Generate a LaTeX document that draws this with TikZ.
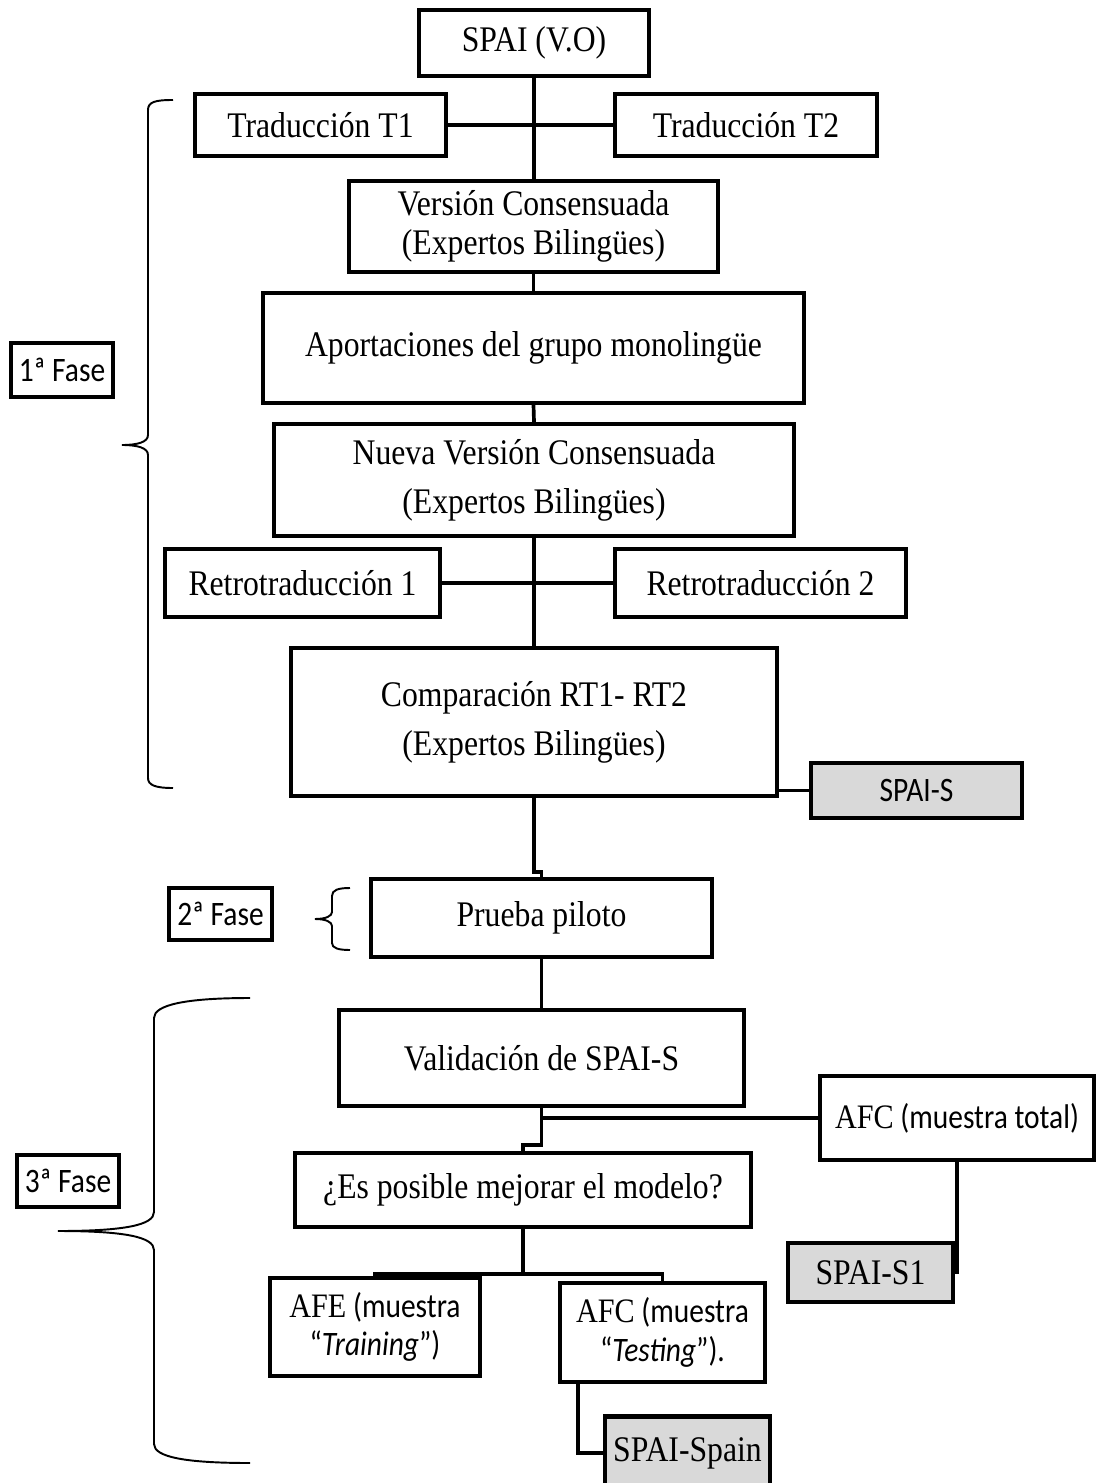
\documentclass[tikz,border=0pt]{standalone}
\usepackage{fontspec}
\setmainfont[FakeStretch=0.88]{Liberation Serif}
\setsansfont[FakeStretch=0.86]{Carlito}
\usetikzlibrary{positioning, calc}
\usepackage{xcolor}
\definecolor{spaigray}{HTML}{D9D9D9}
\newlength{\px}
\setlength{\px}{0.02cm}

\begin{document}
\begin{tikzpicture}[
    x=0.02cm, y=-0.02cm,
    sz/.style 2 args={minimum width=#1\px, minimum height=#2\px},
    stage/.style={rectangle, draw=black, fill=white, line width=2.3pt,
                  align=center, inner sep=1pt,
                  font=\fontsize{20.5}{22}\selectfont},
    result/.style={stage, fill=spaigray},
    phase/.style={rectangle, draw=black, line width=2.3pt, inner sep=1pt,
                  font=\sffamily\fontsize{19.5}{22}\selectfont},
    sanslabel/.style={font=\sffamily\fontsize{19.5}{22}\selectfont},
    link/.style={line width=2.1pt, black},
    curly/.style={line width=1.1pt, black}
  ]
    \useasboundingbox (0,0) rectangle (1096,1483);

    % 1a fase: traduccion y retrotraduccion
    \node[stage, sz={230}{66}] (spai) at (534,43) {SPAI (V.O)};
    \node[stage, sz={251}{62}] (t1) at (320.5,125) {Traducción T1};
    \node[stage, sz={262}{62}] (t2) at (746,125) {Traducción T2};
    \node[stage, sz={369}{91}] (vc) at (533.5,226.5) {Versión Consensuada\\(Expertos Bilingües)};
    \node[stage, sz={541}{110}] (apo) at (533.5,348) {Aportaciones del grupo monolingüe};
    \node[stage, sz={520}{112}] (nvc) at (534,480) {Nueva Versión Consensuada\\[6pt](Expertos Bilingües)};
    \node[stage, sz={275}{68}] (rt1) at (302.5,583) {Retrotraducción 1};
    \node[stage, sz={291}{68}] (rt2) at (760.5,583) {Retrotraducción 2};
    \node[stage, sz={486}{148}] (comp) at (534,722) {Comparación RT1- RT2\\[6pt](Expertos Bilingües)};
    \node[result, sanslabel, sz={211}{55}] (spais) at (916.5,790.5) {SPAI-S};

    % 2a fase
    \node[stage, sz={341}{78}] (piloto) at (541.5,918) {Prueba piloto};

    % 3a fase: validacion
    \node[stage, sz={405}{96}] (val) at (541.5,1058) {Validación de SPAI-S};
    \node[stage, sanslabel, sz={274}{84}] (afct) at (957,1118) {{\rmfamily AFC} (muestra total)};
    \node[stage, sz={456}{74}] (es) at (523,1190) {¿Es posible mejorar el modelo?};
    \node[result, sz={165}{59}] (s1) at (870.5,1272.5) {SPAI-S1};
    \node[stage, sanslabel, sz={210}{98}] (afe) at (375,1327) {{\rmfamily AFE} (muestra\\“\textit{Training}”)};
    \node[stage, sanslabel, sz={205}{99}] (afcx) at (662.5,1332.5) {{\rmfamily AFC} (muestra\\“\textit{Testing}”).};
    \node[result, sz={165}{73}] (spain) at (687.5,1453) {SPAI-Spain};

    % etiquetas de fase
    \node[phase, sz={102}{54}] (f1) at (62,370) {1ª Fase};
    \node[phase, sz={103}{52}] (f2) at (220.5,914) {2ª Fase};
    \node[phase, sz={102}{52}] (f3) at (68,1181) {3ª Fase};

    % conexiones
    \draw[link] (spai.south) -- (spai.south |- vc.north);
    \draw[link] (t1.east) -- (t2.west);
    \draw[link] (vc.south) -- (apo.north);
    \draw[link] (apo.south) -- (nvc.north);
    \draw[link] (nvc.south) -- (comp.north);
    \draw[link] (rt1.east) -- (rt2.west);
    \draw[link] (comp.east |- spais.west) -- (spais.west);
    \draw[link] (comp.south) -- ++(0,74) -| (piloto.north);
    \draw[link] (piloto.south) -- (val.north);
    \draw[link] (val.south) |- (afct.west);
    \draw[link] (val.south) -- ++(0,37) -| (es.north);
    \draw[link] (es.south) -- ++(0,45) coordinate (split);
    \draw[link] (split) -| (afe.north);
    \draw[link] (split) -| (afcx.north);
    \draw[link] (afct.south) |- (s1.east);
    \draw[link] ([xshift=0.4cm]afcx.south west) |- (spain.west);

    % llaves
    \draw[curly] (173,100) .. controls (155,100) and (148,102) .. (148,110) -- (148,435)
      .. controls (148,442) and (138,445) .. (122,445)
      .. controls (138,445) and (148,448) .. (148,455) -- (148,778)
      .. controls (148,785) and (155,788) .. (173,788);
    \draw[curly] (350,888) .. controls (338,888) and (332,890) .. (332,896) -- (332,912)
      .. controls (332,916) and (326,919) .. (315,919)
      .. controls (326,919) and (332,922) .. (332,926) -- (332,943)
      .. controls (332,948) and (338,950) .. (350,950);
    \draw[curly] (250,998) .. controls (185,998) and (154,1005) .. (154,1018) -- (154,1212)
      .. controls (154,1225) and (125,1231) .. (58,1231)
      .. controls (125,1231) and (154,1237) .. (154,1250) -- (154,1444)
      .. controls (154,1457) and (185,1463) .. (250,1463);
  \end{tikzpicture}
\end{document}
